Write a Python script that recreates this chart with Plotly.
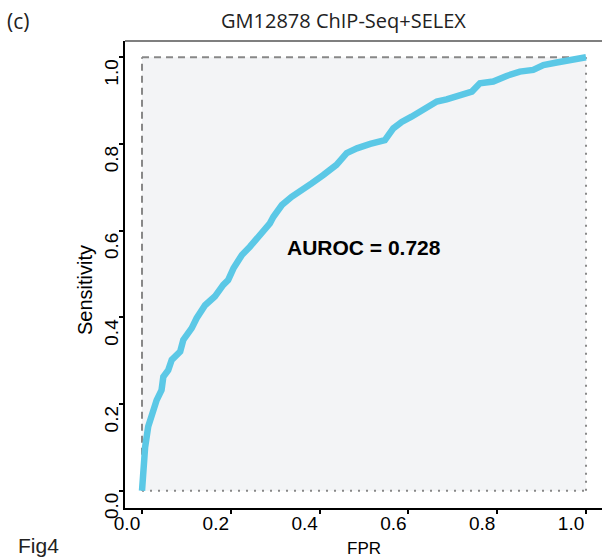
import plotly.graph_objects as go

# ROC curve values
fpr = [0.0, 0.003, 0.007, 0.014, 0.022, 0.033, 0.044, 0.048, 0.059, 0.067, 0.086, 0.093,
       0.112, 0.123, 0.142, 0.164, 0.183, 0.194, 0.206, 0.225, 0.243, 0.266, 0.288, 0.296,
       0.315, 0.337, 0.363, 0.382, 0.408, 0.438, 0.461, 0.484, 0.514, 0.547, 0.566, 0.585,
       0.607, 0.626, 0.664, 0.686, 0.716, 0.743, 0.761, 0.791, 0.821, 0.851, 0.881, 0.904,
       0.934, 0.971, 1.0]
tpr = [0.0, 0.055, 0.100, 0.148, 0.179, 0.209, 0.232, 0.263, 0.278, 0.302, 0.321, 0.348,
       0.375, 0.398, 0.428, 0.448, 0.475, 0.486, 0.513, 0.544, 0.563, 0.590, 0.617, 0.632,
       0.659, 0.678, 0.694, 0.709, 0.728, 0.752, 0.779, 0.790, 0.800, 0.809, 0.836, 0.851,
       0.863, 0.874, 0.898, 0.903, 0.911, 0.921, 0.940, 0.944, 0.957, 0.967, 0.971, 0.982,
       0.988, 0.994, 1.0]

tick_vals = [0.0, 0.2, 0.4, 0.6, 0.8, 1.0]
tick_text = ["0.0", "0.2", "0.4", "0.6", "0.8", "1.0"]

title_text = "GM12878 ChIP-Seq+SELEX"
panel_text = "(c)"
fig_text = "Fig4"
auroc_text = "AUROC = 0.728"
x_title = "FPR"
y_title = "Sensitivity"

fig = go.Figure()
fig.add_trace(go.Scatter(x=fpr, y=tpr, mode="lines",
                         line=dict(color="#5bc8e6", width=6.5),
                         hoverinfo="skip", showlegend=False))

shapes = [
    dict(type="rect", xref="x", yref="y", x0=0, x1=1, y0=0, y1=1,
         fillcolor="#f3f4f6", line=dict(width=0), layer="below"),
    dict(type="line", xref="x", yref="y", x0=0, x1=1, y0=1, y1=1,
         line=dict(color="#888888", width=2, dash="7px,5px"), layer="below"),
    dict(type="line", xref="x", yref="y", x0=0, x1=0, y0=0, y1=1,
         line=dict(color="#888888", width=2, dash="7px,5px"), layer="below"),
    dict(type="line", xref="x", yref="y", x0=0, x1=1, y0=0, y1=0,
         line=dict(color="#888888", width=2, dash="2px,6px"), layer="below"),
    dict(type="line", xref="x", yref="y", x0=1, x1=1, y0=0, y1=1,
         line=dict(color="#888888", width=2, dash="2px,6px"), layer="below"),
    dict(type="line", xref="paper", yref="paper", x0=0, x1=1, y0=1, y1=1,
         line=dict(color="black", width=1.2)),
]

annotations = [
    dict(text=title_text, xref="paper", yref="paper", x=(343 - 125) / 477, y=1 + (41 - 21) / 467,
         showarrow=False, font=dict(family="Open Sans", size=20, color="#222"),
         xanchor="center", yanchor="middle"),
    dict(text=panel_text, xref="paper", yref="paper", x=(5 - 125) / 477, y=1 + (41 - 21) / 467,
         showarrow=False, font=dict(family="Open Sans", size=21, color="#222"),
         xanchor="left", yanchor="middle"),
    dict(text=fig_text, xref="paper", yref="paper", x=(16 - 125) / 477, y=-(545 - 508) / 467,
         showarrow=False, font=dict(family="Liberation Sans", size=21, color="#222"),
         xanchor="left", yanchor="middle"),
    dict(text=x_title, xref="paper", yref="paper", x=(364 - 125) / 477, y=-(548 - 508) / 467,
         showarrow=False, font=dict(family="Liberation Sans", size=17, color="black"),
         xanchor="center", yanchor="middle"),
    dict(text=y_title, xref="paper", yref="paper", x=(85 - 125) / 477, y=(508 - 290) / 467,
         showarrow=False, textangle=-90, font=dict(family="Liberation Sans", size=20, color="black"),
         xanchor="center", yanchor="middle"),
    dict(text="<b>" + auroc_text + "</b>", xref="x", yref="y", x=0.5, y=0.561,
         showarrow=False, font=dict(family="Liberation Sans", size=21, color="black"),
         xanchor="center", yanchor="middle"),
]

axis_font = dict(family="Liberation Sans", size=19, color="black")

fig.update_layout(
    width=602, height=560,
    margin=dict(l=125, r=0, t=41, b=52),
    paper_bgcolor="white", plot_bgcolor="white",
    shapes=shapes, annotations=annotations,
    xaxis=dict(range=[-0.0383, 1.036], tickvals=tick_vals, ticktext=tick_text,
               showgrid=False, zeroline=False, showline=True, linecolor="black", linewidth=2,
               ticks="outside", ticklen=4, tickwidth=1.5, tickcolor="black",
               tickfont=axis_font, ticklabelshift=-15, ticklabelstandoff=-7),
    yaxis=dict(range=[-0.0399, 1.0376], tickvals=tick_vals, ticktext=tick_text,
               showgrid=False, zeroline=False, showline=True, linecolor="black", linewidth=2,
               ticks="outside", ticklen=4, tickwidth=1.5, tickcolor="black",
               tickangle=-90, tickfont=axis_font, ticklabelshift=18, ticklabelstandoff=-7),
)

fig.write_html("out.html")
